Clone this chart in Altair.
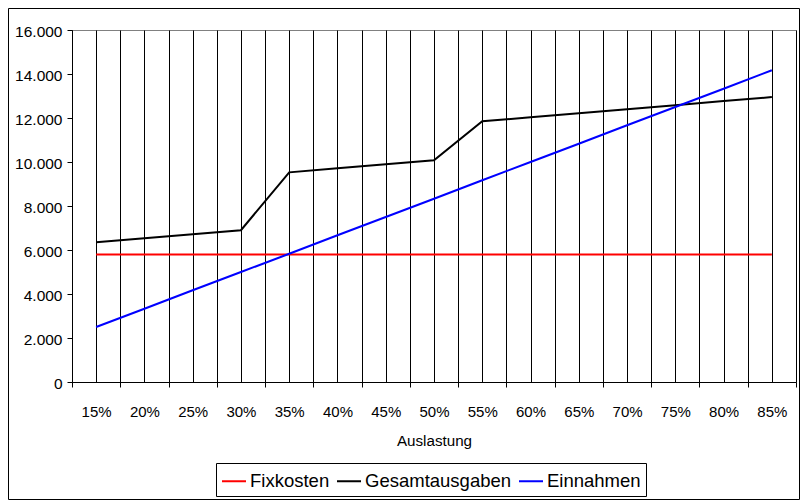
import altair as alt
import pandas as pd

# Data (Auslastung in %)
auslastung = [15, 20, 25, 30, 35, 40, 45, 50, 55, 60, 65, 70, 75, 80, 85]
fixkosten = [5800] * 15
gesamtausgaben = [6350, 6530, 6720, 6900, 9530, 9720, 9900, 10080,
                  11850, 12030, 12220, 12400, 12580, 12770, 12950]
einnahmen = [2500, 3330, 4170, 5000, 5830, 6670, 7500, 8330,
             9170, 10000, 10830, 11670, 12500, 13330, 14170]
series = ["Fixkosten", "Gesamtausgaben", "Einnahmen"]
colors = ["#FF0000", "#000000", "#0000FF"]
y_ticks = [0, 2000, 4000, 6000, 8000, 10000, 12000, 14000, 16000]

rows = []
for name, vals in zip(series, [fixkosten, gesamtausgaben, einnahmen]):
    for a, v in zip(auslastung, vals):
        rows.append({"Auslastung": a, "Wert": v, "Serie": name, "order": series.index(name)})
df = pd.DataFrame(rows)

half = (auslastung[1] - auslastung[0]) / 2
x_domain = [auslastung[0] - half, auslastung[-1] + half]
x_values = [auslastung[0] - half + k * half for k in range(2 * len(auslastung) + 1)]

FONT = "Liberation Sans, Arial, sans-serif"

W, H = 724, 352
PAD = {"left": 64, "top": 22, "right": 4, "bottom": 118}

lines = alt.Chart(df).mark_line(strokeWidth=2).encode(
    x=alt.X("Auslastung:Q",
            scale=alt.Scale(domain=x_domain, nice=False, zero=False),
            axis=alt.Axis(values=x_values, grid=True, gridColor="#000000", gridWidth=1,
                          tickSize=5,
                          tickColor={"condition": {"test": "datum.value % 5 != 0", "value": "#000000"},
                                     "value": "transparent"},
                          labelExpr="datum.value % 5 == 0 ? datum.value + '%' : ''",
                          labelOverlap=False, labelBaseline="alphabetic", labelPadding=29,
                          labelFontSize=15, labelFont=FONT, labelColor="#000000",
                          domainColor="#000000",
                          title="Auslastung", titleFont=FONT, titleFontSize=15.2,
                          titleFontWeight="normal", titleColor="#000000",
                          titleBaseline="alphabetic", titleY=63)),
    y=alt.Y("Wert:Q",
            scale=alt.Scale(domain=[0, 16000], nice=False),
            axis=alt.Axis(values=y_ticks, grid=False, tickSize=5, tickColor="#000000",
                          domainColor="#000000", labelPadding=5, labelOffset=1,
                          labelExpr="replace(format(datum.value, ','), ',', '.')",
                          labelFontSize=15.5, labelFont=FONT, labelColor="#000000",
                          title=None)),
    color=alt.Color("Serie:N",
                    scale=alt.Scale(domain=series, range=colors),
                    legend=alt.Legend(orient="none", legendX=144, legendY=433,
                                      direction="horizontal", title=None,
                                      strokeColor="#000000", fillColor="#FFFFFF",
                                      padding=5, symbolType="stroke", symbolSize=576,
                                      symbolStrokeWidth=2, labelFontSize=18.5,
                                      labelFont=FONT, labelColor="#000000", labelLimit=0,
                                      labelOffset=3, columnPadding=3)),
    detail="order:Q",
)

frame = alt.Chart(alt.Data(values=[{}])).mark_rect(
    filled=False, stroke="#000000", strokeWidth=1
).encode(
    x=alt.value(-PAD["left"] + 0.5),
    x2=alt.value(W + PAD["right"] - 0.5),
    y=alt.value(-PAD["top"] + 0.5),
    y2=alt.value(H + PAD["bottom"] - 0.5),
)

chart = alt.layer(lines, frame).properties(
    width=W, height=H, padding=PAD,
    autosize=alt.AutoSizeParams(type="none"),
    background="#FFFFFF",
).configure_view(stroke="#808080", strokeWidth=1)

chart.save("out.html", embed_options={"renderer": "svg", "actions": False})
